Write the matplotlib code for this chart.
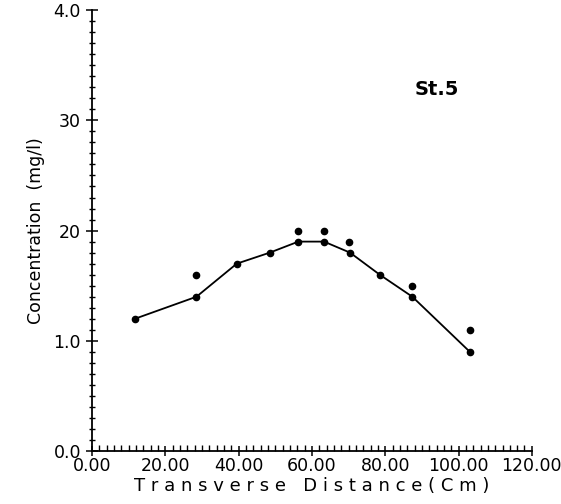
import matplotlib
matplotlib.use("Agg")
import matplotlib.pyplot as plt
import numpy as np

# measured profile (joined by line)
x_line = [11.7, 28.5, 39.5, 48.5, 56.3, 63.3, 70.4, 78.5, 87.4, 103.1]
y_line = [12.0, 14.0, 17.0, 18.0, 19.0, 19.0, 18.0, 16.0, 14.0, 9.0]

# second set of points (dots only)
x_dots = [28.5, 56.3, 63.3, 70.2, 87.4, 103.0]
y_dots = [16.0, 20.0, 20.0, 19.0, 15.0, 11.0]

x_ticks = [0, 20, 40, 60, 80, 100, 120]
x_ticklabels = ["0.00", "20.00", "40.00", "60.00", "80.00", "100.00", "120.00"]
y_ticks = [0, 10, 20, 30, 40]
y_ticklabels = ["0.0", "1.0", "20", "30", "4.0"]

fig = plt.figure(figsize=(5.61, 5.04), dpi=100)
ax = fig.add_axes([0.164, 0.105, 0.784, 0.875])

ax.plot(x_line, y_line, color="k", lw=1.3, marker="o", ms=4.5)
ax.plot(x_dots, y_dots, "o", color="k", ms=4.5, ls="none")

ax.set_xlim(0, 120)
ax.set_ylim(0, 40)
ax.spines["top"].set_visible(False)
ax.spines["right"].set_visible(False)
ax.spines["left"].set_linewidth(1.3)
ax.spines["bottom"].set_linewidth(1.3)

ax.set_xticks(x_ticks)
ax.set_xticklabels(x_ticklabels, fontsize=12.5)
ax.set_xticks(np.arange(0, 121, 2), minor=True)
ax.set_yticks(y_ticks)
ax.set_yticklabels(y_ticklabels, fontsize=12.5)
ax.set_yticks(np.arange(0, 41, 1), minor=True)
ax.tick_params(axis="x", which="major", direction="inout", length=7, width=1.1, pad=1)
ax.tick_params(axis="x", which="minor", direction="in", length=4, width=1)
ax.tick_params(axis="y", which="major", direction="inout", length=8, width=1.1, pad=4)
ax.tick_params(axis="y", which="minor", direction="inout", length=5, width=1)

ax.set_ylabel("Concentration  (mg/l)", fontsize=12.5, labelpad=6)
ax.set_xlabel("T r a n s v e r s e   D i s t a n c e ( C m )",
              family="DejaVu Sans", fontsize=13, labelpad=1)
ax.text(88, 32.3, "St.5", fontsize=14, fontweight="bold")

fig.savefig("out.png", dpi=100)
